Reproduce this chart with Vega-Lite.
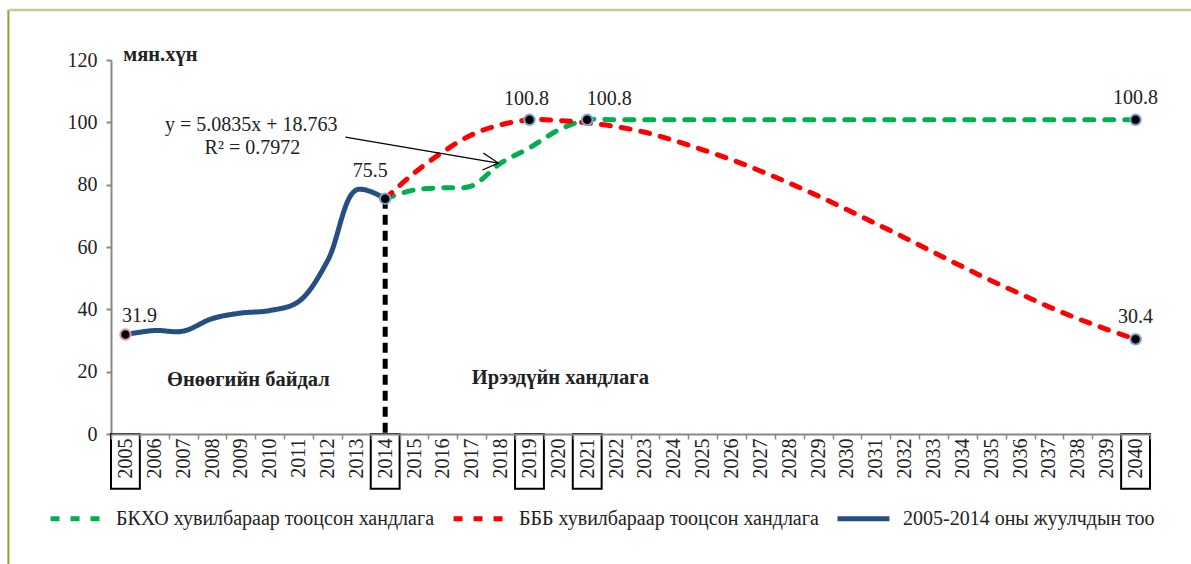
{
  "$schema": "https://vega.github.io/schema/vega-lite/v6.json",
  "width": 1039,
  "height": 374,
  "autosize": {"type": "none"},
  "padding": {"left": 111, "top": 60, "right": 41, "bottom": 130},
  "background": "white",
  "config": {
    "view": {"stroke": null},
    "font": "Liberation Serif",
    "text": {"font": "Liberation Serif", "color": "#222"}
  },
  "datasets": {
    "lines": [
      {"year": 2014, "value": 75.5, "series": "БКХО хувилбараар тооцсон хандлага"},
      {"year": 2015, "value": 78.3, "series": "БКХО хувилбараар тооцсон хандлага"},
      {"year": 2016, "value": 79.0, "series": "БКХО хувилбараар тооцсон хандлага"},
      {"year": 2017, "value": 79.6, "series": "БКХО хувилбараар тооцсон хандлага"},
      {"year": 2018, "value": 86.9, "series": "БКХО хувилбараар тооцсон хандлага"},
      {"year": 2019, "value": 91.8, "series": "БКХО хувилбараар тооцсон хандлага"},
      {"year": 2020, "value": 97.5, "series": "БКХО хувилбараар тооцсон хандлага"},
      {"year": 2021, "value": 100.8, "series": "БКХО хувилбараар тооцсон хандлага"},
      {"year": 2022, "value": 100.8, "series": "БКХО хувилбараар тооцсон хандлага"},
      {"year": 2023, "value": 100.8, "series": "БКХО хувилбараар тооцсон хандлага"},
      {"year": 2024, "value": 100.8, "series": "БКХО хувилбараар тооцсон хандлага"},
      {"year": 2025, "value": 100.8, "series": "БКХО хувилбараар тооцсон хандлага"},
      {"year": 2026, "value": 100.8, "series": "БКХО хувилбараар тооцсон хандлага"},
      {"year": 2027, "value": 100.8, "series": "БКХО хувилбараар тооцсон хандлага"},
      {"year": 2028, "value": 100.8, "series": "БКХО хувилбараар тооцсон хандлага"},
      {"year": 2029, "value": 100.8, "series": "БКХО хувилбараар тооцсон хандлага"},
      {"year": 2030, "value": 100.8, "series": "БКХО хувилбараар тооцсон хандлага"},
      {"year": 2031, "value": 100.8, "series": "БКХО хувилбараар тооцсон хандлага"},
      {"year": 2032, "value": 100.8, "series": "БКХО хувилбараар тооцсон хандлага"},
      {"year": 2033, "value": 100.8, "series": "БКХО хувилбараар тооцсон хандлага"},
      {"year": 2034, "value": 100.8, "series": "БКХО хувилбараар тооцсон хандлага"},
      {"year": 2035, "value": 100.8, "series": "БКХО хувилбараар тооцсон хандлага"},
      {"year": 2036, "value": 100.8, "series": "БКХО хувилбараар тооцсон хандлага"},
      {"year": 2037, "value": 100.8, "series": "БКХО хувилбараар тооцсон хандлага"},
      {"year": 2038, "value": 100.8, "series": "БКХО хувилбараар тооцсон хандлага"},
      {"year": 2039, "value": 100.8, "series": "БКХО хувилбараар тооцсон хандлага"},
      {"year": 2040, "value": 100.8, "series": "БКХО хувилбараар тооцсон хандлага"},
      {"year": 2014, "value": 75.5, "series": "БББ хувилбараар тооцсон хандлага"},
      {"year": 2015, "value": 83.7, "series": "БББ хувилбараар тооцсон хандлага"},
      {"year": 2016, "value": 90.5, "series": "БББ хувилбараар тооцсон хандлага"},
      {"year": 2017, "value": 96.0, "series": "БББ хувилбараар тооцсон хандлага"},
      {"year": 2018, "value": 99.2, "series": "БББ хувилбараар тооцсон хандлага"},
      {"year": 2019, "value": 100.8, "series": "БББ хувилбараар тооцсон хандлага"},
      {"year": 2020, "value": 100.6, "series": "БББ хувилбараар тооцсон хандлага"},
      {"year": 2021, "value": 99.8, "series": "БББ хувилбараар тооцсон хандлага"},
      {"year": 2022, "value": 98.6, "series": "БББ хувилбараар тооцсон хандлага"},
      {"year": 2023, "value": 96.8, "series": "БББ хувилбараар тооцсон хандлага"},
      {"year": 2024, "value": 94.2, "series": "БББ хувилбараар тооцсон хандлага"},
      {"year": 2025, "value": 91.2, "series": "БББ хувилбараар тооцсон хандлага"},
      {"year": 2026, "value": 88.0, "series": "БББ хувилбараар тооцсон хандлага"},
      {"year": 2027, "value": 84.4, "series": "БББ хувилбараар тооцсон хандлага"},
      {"year": 2028, "value": 80.5, "series": "БББ хувилбараар тооцсон хандлага"},
      {"year": 2029, "value": 76.4, "series": "БББ хувилбараар тооцсон хандлага"},
      {"year": 2030, "value": 72.0, "series": "БББ хувилбараар тооцсон хандлага"},
      {"year": 2031, "value": 67.5, "series": "БББ хувилбараар тооцсон хандлага"},
      {"year": 2032, "value": 63.0, "series": "БББ хувилбараар тооцсон хандлага"},
      {"year": 2033, "value": 58.3, "series": "БББ хувилбараар тооцсон хандлага"},
      {"year": 2034, "value": 53.7, "series": "БББ хувилбараар тооцсон хандлага"},
      {"year": 2035, "value": 49.2, "series": "БББ хувилбараар тооцсон хандлага"},
      {"year": 2036, "value": 45.0, "series": "БББ хувилбараар тооцсон хандлага"},
      {"year": 2037, "value": 40.8, "series": "БББ хувилбараар тооцсон хандлага"},
      {"year": 2038, "value": 37.0, "series": "БББ хувилбараар тооцсон хандлага"},
      {"year": 2039, "value": 33.6, "series": "БББ хувилбараар тооцсон хандлага"},
      {"year": 2040, "value": 30.4, "series": "БББ хувилбараар тооцсон хандлага"},
      {"year": 2005, "value": 31.9, "series": "2005-2014 оны жуулчдын тоо"},
      {"year": 2006, "value": 33.2, "series": "2005-2014 оны жуулчдын тоо"},
      {"year": 2007, "value": 33.0, "series": "2005-2014 оны жуулчдын тоо"},
      {"year": 2008, "value": 37.0, "series": "2005-2014 оны жуулчдын тоо"},
      {"year": 2009, "value": 38.8, "series": "2005-2014 оны жуулчдын тоо"},
      {"year": 2010, "value": 39.6, "series": "2005-2014 оны жуулчдын тоо"},
      {"year": 2011, "value": 42.5, "series": "2005-2014 оны жуулчдын тоо"},
      {"year": 2012, "value": 55.5, "series": "2005-2014 оны жуулчдын тоо"},
      {"year": 2013, "value": 78.3, "series": "2005-2014 оны жуулчдын тоо"},
      {"year": 2014, "value": 75.5, "series": "2005-2014 оны жуулчдын тоо"}
    ],
    "points": [
      {"year": 2005, "value": 31.9, "ring": "start"},
      {"year": 2014, "value": 75.5, "ring": "proj"},
      {"year": 2019, "value": 100.8, "ring": "proj"},
      {"year": 2021, "value": 100.8, "ring": "proj"},
      {"year": 2040, "value": 100.8, "ring": "proj"},
      {"year": 2040, "value": 30.4, "ring": "proj"}
    ],
    "boxes": [
      {"year": 2005, "base": 0}, {"year": 2014, "base": 0}, {"year": 2019, "base": 0},
      {"year": 2021, "base": 0}, {"year": 2040, "base": 0}
    ],
    "divider": [{"year": 2014, "value": 75.5}],
    "notes": [
      {"xq": 2009.26, "value": 17.3, "label": "Өнөөгийн байдал", "kind": "bold"},
      {"xq": 2020.07, "value": 18.0, "label": "Ирээдүйн хандлага", "kind": "bold"},
      {"xq": 2006.21, "value": 121.6, "label": "мян.хүн", "kind": "bold"},
      {"xq": 2009.36, "value": 99.1, "label": "y = 5.0835x + 18.763", "kind": "normal"},
      {"xq": 2009.4, "value": 91.8, "label": "R² = 0.7972", "kind": "normal"}
    ],
    "arrow": [
      {"xq": 2012.62, "value": 95.28, "seg": "shaft", "ord": 1},
      {"xq": 2017.92, "value": 86.94, "seg": "shaft", "ord": 2},
      {"xq": 2017.40, "value": 90.15, "seg": "head", "ord": 1},
      {"xq": 2017.92, "value": 86.94, "seg": "head", "ord": 2},
      {"xq": 2017.37, "value": 84.70, "seg": "head", "ord": 3}
    ],
    "frame": [
      {"edge": "left", "xq": 2000.945, "xq2": 2000.945, "value": 136.03, "value2": -60},
      {"edge": "top", "xq": 2000.945, "xq2": 2043.0, "value": 136.03, "value2": 136.03}
    ]
  },
  "layer": [
    {
      "encoding": {
        "x": {
          "field": "year", "type": "ordinal", "title": null,
          "scale": {"paddingInner": 0, "paddingOuter": 0},
          "axis": {
            "labelAngle": -90, "labelAlign": "right", "labelBaseline": "middle",
            "labelFont": "Liberation Serif", "labelFontSize": 20, "labelColor": "#222",
            "labelPadding": -1, "tickBand": "extent", "tickSize": 5, "tickColor": "#888",
            "tickWidth": 1.5, "domainColor": "#888", "domainWidth": 2, "grid": false
          }
        },
        "y": {
          "field": "value", "type": "quantitative", "title": null,
          "scale": {"domain": [0, 120], "nice": false, "zero": true},
          "axis": {
            "values": [0, 20, 40, 60, 80, 100, 120],
            "labelFont": "Liberation Serif", "labelFontSize": 20, "labelColor": "#222",
            "labelPadding": 9, "tickSize": 5, "tickColor": "#888", "tickWidth": 2,
            "domainColor": "#888", "domainWidth": 2, "grid": false
          }
        }
      },
      "layer": [
        {
          "data": {"name": "boxes"},
          "mark": {"type": "rect", "fill": "transparent", "stroke": "black", "strokeWidth": 2, "clip": false},
          "encoding": {
            "y": {"field": "base", "type": "quantitative"},
            "y2": {"datum": -17.6}
          }
        },
        {
          "data": {"name": "divider"},
          "mark": {"type": "rule", "stroke": "black", "strokeWidth": 5, "strokeDash": [10, 6]},
          "encoding": {
            "y2": {"datum": 0}
          }
        },
        {
          "data": {"name": "lines"},
          "mark": {"type": "line", "interpolate": "catmull-rom", "strokeWidth": 5, "strokeCap": "round"},
          "encoding": {
            "color": {
              "field": "series", "type": "nominal", "title": null,
              "scale": {
                "domain": ["БКХО хувилбараар тооцсон хандлага", "БББ хувилбараар тооцсон хандлага", "2005-2014 оны жуулчдын тоо"],
                "range": ["#00b050", "#ff0000", "#254e83"]
              },
              "legend": {
                "orient": "none", "legendX": -63, "legendY": 430, "direction": "horizontal",
                "columns": 3, "symbolType": "stroke", "symbolSize": 2700, "symbolStrokeWidth": 5,
                "labelFont": "Liberation Serif", "labelFontSize": 20, "labelColor": "#222",
                "labelOffset": 11, "columnPadding": 8, "labelLimit": 400
              }
            },
            "strokeDash": {
              "field": "series", "type": "nominal", "title": null,
              "scale": {
                "domain": ["БКХО хувилбараар тооцсон хандлага", "БББ хувилбараар тооцсон хандлага", "2005-2014 оны жуулчдын тоо"],
                "range": [[9, 11], [9, 11], [1, 0]]
              },
              "legend": {
                "orient": "none", "legendX": -63, "legendY": 430, "direction": "horizontal",
                "columns": 3, "symbolType": "stroke", "symbolSize": 2700, "symbolStrokeWidth": 5,
                "labelFont": "Liberation Serif", "labelFontSize": 20, "labelColor": "#222",
                "labelOffset": 11, "columnPadding": 8, "labelLimit": 400
              }
            }
          }
        },
        {
          "data": {"name": "points"},
          "mark": {"type": "circle", "fill": "black", "opacity": 1, "size": 110, "strokeWidth": 2},
          "encoding": {
            "stroke": {
              "field": "ring", "type": "nominal",
              "scale": {"domain": ["start", "proj"], "range": ["#e0a0a0", "#7fa3cf"]},
              "legend": null
            }
          }
        },
        {
          "data": {"name": "points"},
          "transform": [{"filter": "datum.year == 2005"}],
          "mark": {"type": "text", "font": "Liberation Serif", "fontSize": 20, "baseline": "middle", "dx": 14, "dy": -19},
          "encoding": {"text": {"field": "value", "type": "quantitative", "format": ".1f"}}
        },
        {
          "data": {"name": "points"},
          "transform": [{"filter": "datum.year == 2014"}],
          "mark": {"type": "text", "font": "Liberation Serif", "fontSize": 20, "baseline": "middle", "dx": -15, "dy": -28},
          "encoding": {"text": {"field": "value", "type": "quantitative", "format": ".1f"}}
        },
        {
          "data": {"name": "points"},
          "transform": [{"filter": "datum.year == 2019"}],
          "mark": {"type": "text", "font": "Liberation Serif", "fontSize": 20, "baseline": "middle", "dx": -3, "dy": -21},
          "encoding": {"text": {"field": "value", "type": "quantitative", "format": ".1f"}}
        },
        {
          "data": {"name": "points"},
          "transform": [{"filter": "datum.year == 2021"}],
          "mark": {"type": "text", "font": "Liberation Serif", "fontSize": 20, "baseline": "middle", "dx": 22, "dy": -21},
          "encoding": {"text": {"field": "value", "type": "quantitative", "format": ".1f"}}
        },
        {
          "data": {"name": "points"},
          "transform": [{"filter": "datum.year == 2040"}],
          "mark": {"type": "text", "font": "Liberation Serif", "fontSize": 20, "baseline": "middle", "dx": 0, "dy": -22},
          "encoding": {"text": {"field": "value", "type": "quantitative", "format": ".1f"}}
        }
      ]
    },
    {
      "encoding": {
        "x": {
          "field": "xq", "type": "quantitative", "title": null,
          "scale": {"domain": [2004.5, 2040.5], "nice": false, "zero": false},
          "axis": null
        },
        "y": {
          "field": "value", "type": "quantitative", "title": null,
          "scale": {"domain": [0, 120], "nice": false, "zero": true}
        }
      },
      "layer": [
        {
          "data": {"name": "frame"},
          "transform": [{"filter": "datum.edge == 'left'"}],
          "mark": {"type": "rule", "stroke": "#9b9b30", "strokeWidth": 2, "clip": false},
          "encoding": {"y2": {"field": "value2"}}
        },
        {
          "data": {"name": "frame"},
          "transform": [{"filter": "datum.edge == 'top'"}],
          "mark": {"type": "rule", "stroke": "#c8c898", "strokeWidth": 2.5, "clip": false},
          "encoding": {"x2": {"field": "xq2"}}
        },
        {
          "data": {"name": "notes"},
          "transform": [{"filter": "datum.kind == 'bold'"}],
          "mark": {"type": "text", "font": "Liberation Serif", "fontSize": 20.5, "fontWeight": "bold", "baseline": "middle", "align": "center"},
          "encoding": {"text": {"field": "label"}}
        },
        {
          "data": {"name": "notes"},
          "transform": [{"filter": "datum.kind == 'normal'"}],
          "mark": {"type": "text", "font": "Liberation Serif", "fontSize": 20, "baseline": "middle", "align": "center"},
          "encoding": {"text": {"field": "label"}}
        },
        {
          "data": {"name": "arrow"},
          "mark": {"type": "line", "stroke": "black", "strokeWidth": 1.3},
          "encoding": {
            "detail": {"field": "seg"},
            "order": {"field": "ord", "type": "quantitative"}
          }
        }
      ]
    }
  ],
  "resolve": {"scale": {"x": "independent"}}
}
